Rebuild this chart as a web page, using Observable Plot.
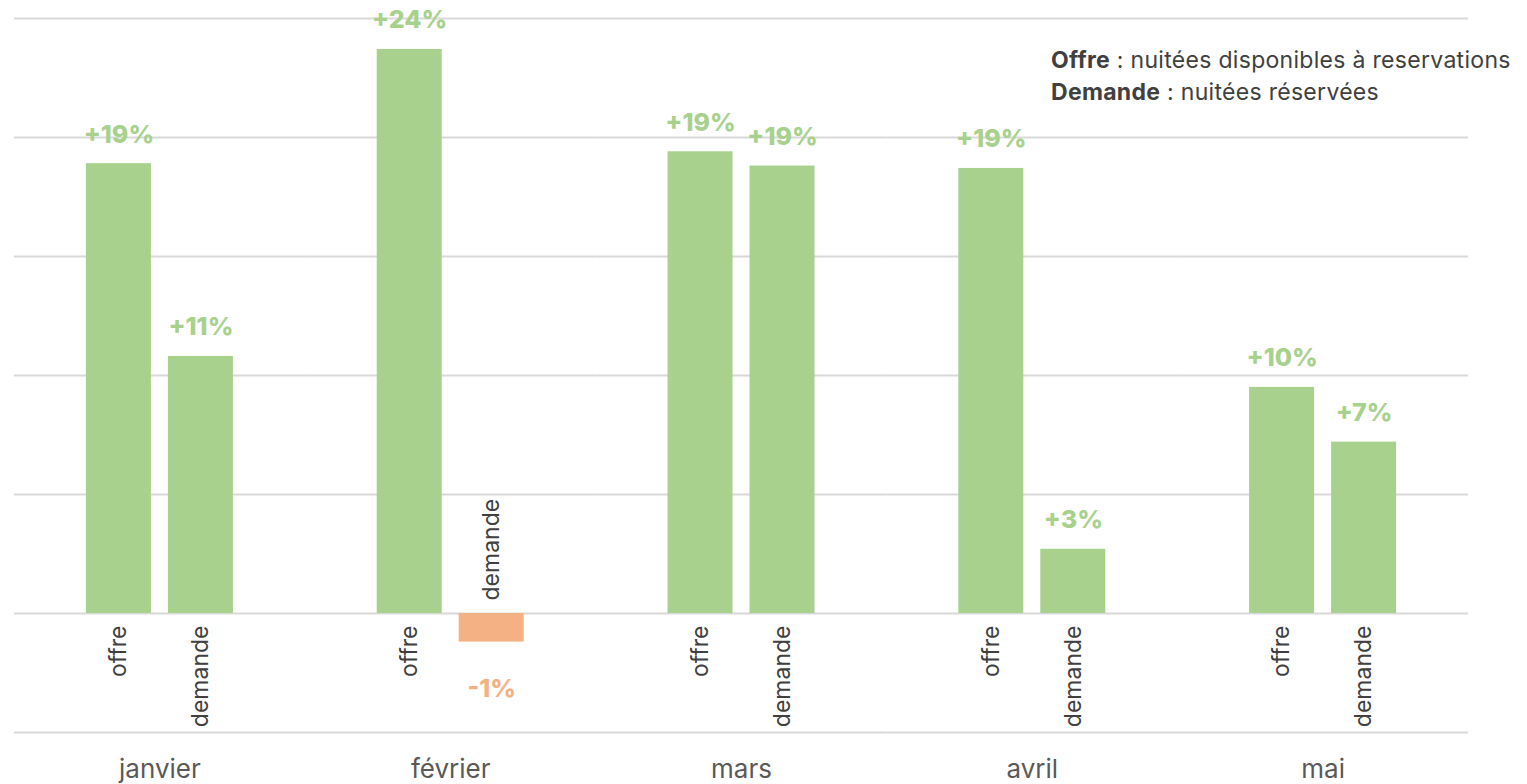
<!DOCTYPE html>
<html><head><meta charset="utf-8">
<script src="https://cdn.jsdelivr.net/npm/d3@7"></script>
<script src="https://cdn.jsdelivr.net/npm/@observablehq/plot@0.6"></script>
<style>
body{margin:0;background:#fff;font-family:Inter, "Open Sans", sans-serif;}
#wrap{position:relative;width:1527px;height:784px;}
#legend{position:absolute;left:1051px;top:44px;font-size:23px;letter-spacing:0.3px;color:#404040;line-height:32px;white-space:nowrap;}
#legend b{font-weight:700;}
</style></head><body>
<div id="wrap"><div id="legend"><div><b>Offre</b> : nuitées disponibles à reservations</div><div><b>Demande</b> : nuitées réservées</div></div></div>
<script>
const months = ["janvier", "février", "mars", "avril", "mai"];
const types = ["offre", "demande"];
const offre = [18.9, 23.7, 19.4, 18.7, 9.5];
const demande = [10.8, -1.2, 18.8, 2.7, 7.2];
const gridTicks = [-5, 0, 5, 10, 15, 20, 25];

const GREEN = "#A9D18E", ORANGE = "#F4B183";
const data = months.flatMap((m, i) => [
  {month: m, type: "offre", value: offre[i]},
  {month: m, type: "demande", value: demande[i]}
]);
const fmt = v => (v >= 0 ? "+" : "") + Math.round(v) + "%";
const pos = data.filter(d => d.value >= 0);
const neg = data.filter(d => d.value < 0);

const chart = Plot.plot({
  width: 1527, height: 784,
  marginTop: 18, marginBottom: 52, marginLeft: 14, marginRight: 59,
  style: {fontFamily: "Inter, 'Open Sans', sans-serif", background: "transparent", overflow: "visible"},
  fx: {domain: months, padding: 0, round: false, label: null},
  x: {domain: types, paddingInner: 0.2073, paddingOuter: 0.877, round: false, axis: null},
  y: {domain: [-5, 25], axis: null},
  marks: [
    Plot.ruleY(gridTicks, {stroke: "#d9d9d9", strokeWidth: 2}),
    Plot.barY(data, {fx: "month", x: "type", y: "value", fill: d => d.value < 0 ? ORANGE : GREEN}),
    Plot.text(pos, {fx: "month", x: "type", y: "value", text: d => fmt(d.value), fill: GREEN, fontWeight: 800, fontSize: 25, lineAnchor: "bottom", dy: -21}),
    Plot.text(neg, {fx: "month", x: "type", y: "value", text: d => fmt(d.value), fill: ORANGE, fontWeight: 800, fontSize: 25, lineAnchor: "top", dy: 37}),
    Plot.text(pos, {fx: "month", x: "type", y: 0, text: "type", rotate: -90, textAnchor: "end", lineAnchor: "middle", dy: 12, fontSize: 23, fill: "#404040"}),
    Plot.text(neg, {fx: "month", x: "type", y: 0, text: "type", rotate: -90, textAnchor: "start", lineAnchor: "middle", dy: -13, fontSize: 23, fill: "#404040"}),
    Plot.axisFx({anchor: "bottom", tickSize: 0, tickPadding: 27, fontSize: 26, color: "#595959", label: null})
  ]
});
chart.style.position = "absolute";
chart.style.left = "0";
chart.style.top = "0";
document.getElementById("wrap").prepend(chart);
</script>
</body></html>
